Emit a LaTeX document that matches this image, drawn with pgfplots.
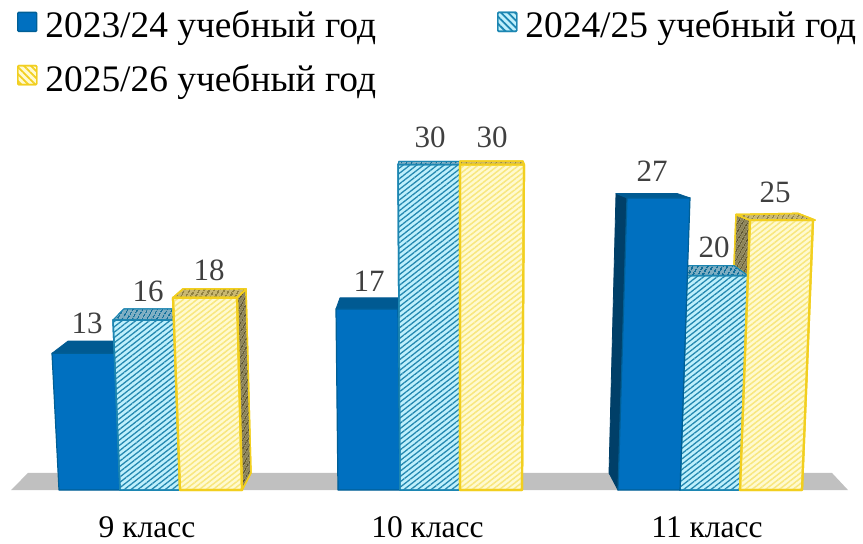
\documentclass[border=0pt]{standalone}
\usepackage{fontspec}
\setmainfont{Liberation Serif}
\usepackage{pgfplots}
\pgfplotsset{compat=1.18}
\usetikzlibrary{patterns.meta}
\definecolor{bluefill}{HTML}{0070C0}
\definecolor{blueedge}{HTML}{005F96}
\definecolor{bluetop}{HTML}{005A92}
\definecolor{blueside}{HTML}{003F68}
\definecolor{cyanbg}{HTML}{BFF0FC}
\definecolor{cyanline}{HTML}{2488B0}
\definecolor{cyanedge}{HTML}{1C86B2}
\definecolor{cyantopbg}{HTML}{7FAEC2}
\definecolor{cyantopline}{HTML}{0F6E9A}
\definecolor{yelbg}{HTML}{FFFAD0}
\definecolor{yelline}{HTML}{F8E77E}
\definecolor{yeledge}{HTML}{F2CF1F}
\definecolor{yeltopbg}{HTML}{C9B872}
\definecolor{yeltopline}{HTML}{8F8040}
\definecolor{yelsidebg}{HTML}{8D8458}
\definecolor{yelsideline}{HTML}{5F5630}
\definecolor{floorgrey}{HTML}{C0C0C0}
\definecolor{labelgrey}{HTML}{404040}
\tikzset{
 solidblue/.style={fill=bluefill,draw=blueedge,line width=1.2pt,line join=round},
 bluet/.style={fill=bluetop,draw=bluetop,line width=0.8pt,line join=round},
 blues/.style={fill=blueside,draw=blueside,line width=0.8pt,line join=round},
 cyanh/.style={preaction={fill=cyanbg},pattern={Lines[angle=38,distance=4.2pt,line width=1.3pt]},pattern color=cyanline,draw=cyanedge,line width=1.5pt,line join=round},
 cyant/.style={preaction={fill=cyantopbg},pattern={Lines[angle=60,distance=4pt,line width=1.6pt]},pattern color=cyantopline,draw=cyanedge,line width=1pt,line join=round},
 yelh/.style={preaction={fill=yelbg},pattern={Lines[angle=38,distance=4.2pt,line width=1.5pt]},pattern color=yelline,draw=yeledge,line width=2.2pt,line join=round},
 yelt/.style={preaction={fill=yeltopbg},pattern={Lines[angle=60,distance=4pt,line width=1.6pt]},pattern color=yeltopline,draw=yeledge,line width=1.6pt,line join=round},
 yels/.style={preaction={fill=yelsidebg},pattern={Lines[angle=60,distance=4pt,line width=1.6pt]},pattern color=yelsideline,draw=yeledge,line width=1.4pt,line join=round},
 legcyan/.style={preaction={fill=cyanbg},pattern={Lines[angle=-45,distance=5pt,line width=1.8pt]},pattern color=cyanedge,draw=cyanedge,line width=1.4pt,rounded corners=1pt},
 legyel/.style={preaction={fill=yelbg},pattern={Lines[angle=-45,distance=5pt,line width=1.8pt]},pattern color=yeledge,draw=yeledge,line width=1.4pt,rounded corners=1pt},
 legblue/.style={fill=bluefill,draw=blueedge,line width=1.4pt,rounded corners=1pt},
 vallabel/.style={anchor=base,text=labelgrey,font=\fontsize{31}{36}\selectfont,inner sep=0pt},
}
\begin{document}
\begin{tikzpicture}
\begin{axis}[
  scale only axis,width=863pt,height=544pt,
  xmin=0,xmax=863,ymin=-4.18,ymax=44.83,
  axis line style={draw=none},
  ytick=\empty,
  xtick={147,427.5,707},
  xticklabels={9 класс,10 класс,11 класс},
  major tick length=0pt,
  xticklabel style={anchor=base,yshift=6pt,text=black,font=\fontsize{31.5}{36}\selectfont,inner sep=0pt},
  clip=false,
  legend columns=2,
  legend cell align=left,
  legend style={at={(axis cs:17,44.0)},anchor=north west,draw=none,fill=none,
    font=\fontsize{37.4}{44}\selectfont,row sep=21pt,inner sep=0pt,outer sep=0pt,
    /tikz/every even column/.append style={column sep=0pt}},
  legend image code/.code={\path[#1] (0pt,-6pt) rectangle (19pt,13pt);},
]
\addlegendimage{legblue}\addlegendentry{\hspace*{6pt}2023/24 учебный год\hspace*{119pt}}
\addlegendimage{legcyan}\addlegendentry{\hspace*{6pt}2024/25 учебный год}
\addlegendimage{legyel}\addlegendentry{\hspace*{6pt}2025/26 учебный год}

% floor
\addplot[fill=floorgrey,draw=none,forget plot] coordinates {(11,0.68)(28,2.22)(832,2.22)(848,0.68)} --cycle;

% 9 класс : 13, 16, 18
\addplot[bluet,forget plot] coordinates {(52,13)(68,14.1)(116,14.1)(116,13)} --cycle;
\addplot[solidblue,forget plot] coordinates {(52,13)(115,13)(120,0.68)(59,0.68)} --cycle;
\addplot[cyant,forget plot] coordinates {(113,16)(124,17)(174,17)(174,16)} --cycle;
\addplot[cyanh,forget plot] coordinates {(113,16)(174,16)(180,0.68)(120,0.68)} --cycle;
\addplot[yels,forget plot] coordinates {(237,18)(246,18.8)(251,2.22)(242,0.68)} --cycle;
\addplot[yelt,forget plot] coordinates {(173,18)(183,18.8)(246,18.8)(237,18)} --cycle;
\addplot[yelh,forget plot] coordinates {(173,18)(237,18)(242,0.68)(180,0.68)} --cycle;

% 10 класс : 17, 30, 30
\addplot[bluet,forget plot] coordinates {(336,17)(340,18)(399,18)(399,17)} --cycle;
\addplot[solidblue,forget plot] coordinates {(336,17)(398,17)(400,0.68)(338,0.68)} --cycle;
\addplot[cyant,forget plot] coordinates {(398,30)(399,30.3)(460,30.3)(460,30)} --cycle;
\addplot[cyanh,forget plot] coordinates {(398,30)(460,30)(460,0.68)(400,0.68)} --cycle;
\addplot[yelt,forget plot] coordinates {(460,30)(460,30.3)(523,30.3)(524,30)} --cycle;
\addplot[yelh,forget plot] coordinates {(460,30)(524,30)(522,0.68)(460,0.68)} --cycle;

% 11 класс : 27, 20, 25
\addplot[yels,forget plot] coordinates {(736,25.5)(750,25)(748,20)(734,20.9)} --cycle;
\addplot[cyant,forget plot] coordinates {(687,20.9)(734,20.9)(748,20)(687,20)} --cycle;
\addplot[cyanh,forget plot] coordinates {(687,20)(748,20)(740,0.68)(680,0.68)} --cycle;
\addplot[blues,forget plot] coordinates {(616,27.4)(627,27)(618,0.68)(609,2.22)} --cycle;
\addplot[bluet,forget plot] coordinates {(616,27.4)(677,27.4)(690,27)(627,27)} --cycle;
\addplot[solidblue,forget plot] coordinates {(627,27)(690,27)(680,0.68)(618,0.68)} --cycle;
\addplot[yelt,forget plot] coordinates {(736,25.5)(798,25.6)(815,25)(750,25)} --cycle;
\addplot[yelh,forget plot] coordinates {(750,25)(813,25)(802,0.68)(740,0.68)} --cycle;

% value labels
\node[vallabel] at (axis cs:87,14.74) {13};
\node[vallabel] at (axis cs:148,17.71) {16};
\node[vallabel] at (axis cs:209,19.6) {18};
\node[vallabel] at (axis cs:369,18.61) {17};
\node[vallabel] at (axis cs:430,31.58) {30};
\node[vallabel] at (axis cs:492,31.58) {30};
\node[vallabel] at (axis cs:652,28.52) {27};
\node[vallabel] at (axis cs:714,21.59) {20};
\node[vallabel] at (axis cs:775,26.63) {25};
\end{axis}
\pgfresetboundingbox
\path[use as bounding box] (0,0) rectangle (863pt,544pt);
\end{tikzpicture}
\end{document}
